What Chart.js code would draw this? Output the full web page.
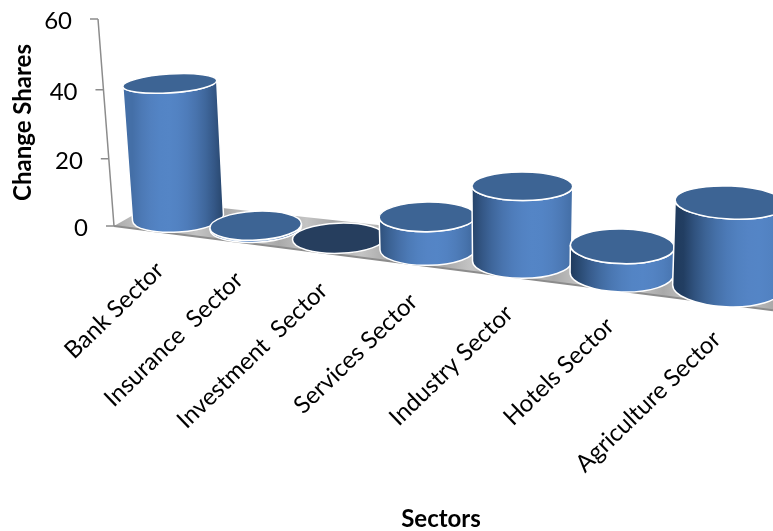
<!DOCTYPE html>
<html>
<head>
<meta charset="utf-8">
<style>
  html, body { margin: 0; padding: 0; background: #fff; }
  canvas { display: block; }
</style>
<script src="https://cdn.jsdelivr.net/npm/chart.js@4"></script>
</head>
<body>
<canvas id="chartCanvas" width="773" height="531"></canvas>
<script>
// values
const sectors = ["Bank Sector", "Insurance  Sector", "Investment  Sector", "Services Sector", "Industry Sector", "Hotels Sector", "Agriculture Sector"];
const changeShares = [39, 0.6, 0, 9, 20, 7, 20.5];
const yTicks = [0, 20, 40, 60];

// fake 3D: turns the flat scale pixels into the slanted perspective view
function catIndex(x, px) {
    let a = x.getPixelForValue(0);
    let b = x.getPixelForValue(1);
    return (px - a) / (b - a);
}
function floorX(i) { return 178 + 75 * i + 2.75 * i * i; }
function floorY(sx) { return 218 + 0.1257 * (sx - 178); }
function depth(i) { return 1 + 0.0054 * i * i; }
function flat(y, rx) { return rx * (0.2 + 0.00081 * (y - 84)); }
function axisX(y) { return 98 + (y - 19) * 16 / 207; }
function tickY(chart, py) {
    let a = chart.chartArea;
    let t = (a.bottom - py) / (a.bottom - a.top);
    return py + t * (1 - t) * 8;
}

function sideGradient(ctx, x0, x1, peak) {
    let g = ctx.createLinearGradient(x0, 0, x1, 0);
    let dark = [31, 58, 92];
    let light = [84, 133, 198];
    for (let s = 0; s <= 10; s++) {
        let t = s / 10;
        let b = Math.max(0, 1 - Math.pow((t - peak) / 0.68, 2));
        let c = dark.map((d, k) => Math.round(d + (light[k] - d) * b));
        g.addColorStop(t, "rgb(" + c.join(",") + ")");
    }
    return g;
}

function drawCylinder(ctx, i, value, heightPx, baseW) {
    let bx = floorX(i);
    let by = floorY(bx);
    let rx = baseW / 2 * depth(i);
    let h = heightPx * depth(i);
    let tx = bx + h * (bx - 500) * 0.00019;
    let ty = by - h;
    let trx = rx * (1 + h * 0.00025);
    let ry = flat(by, rx);
    let try_ = flat(ty, trx);
    let rot = (bx - 500) * 0.0002;

    ctx.lineWidth = 1.5;
    ctx.strokeStyle = "#ffffff";

    if (value > 0) {
        ctx.beginPath();
        ctx.ellipse(bx, by, rx, ry, rot, Math.PI, 0, true);
        ctx.ellipse(tx, ty, trx, try_, rot, 0, Math.PI, false);
        ctx.closePath();
        ctx.fillStyle = sideGradient(ctx, bx - rx, bx + rx, 0.37 + 0.065 * i);
        ctx.fill();
        ctx.stroke();
    }

    ctx.beginPath();
    ctx.ellipse(tx, ty, trx, try_, rot, 0, Math.PI * 2);
    ctx.fillStyle = value > 0 ? "#3d6494" : "#263e5e";
    ctx.fill();
    ctx.stroke();
}

const view3d = {
    id: "view3d",
    beforeDraw(chart) {
        let ctx = chart.ctx;
        let x = chart.scales.x;
        let y = chart.scales.y;
        let a = chart.chartArea;

        // floor
        let g = ctx.createLinearGradient(a.left, 0, 773, 0);
        for (let s = 0; s <= 24; s++) g.addColorStop(s / 24, s % 2 ? "#c4c4c4" : "#a9a9a9");
        ctx.beginPath();
        ctx.moveTo(a.left, a.bottom);
        ctx.lineTo(158, 201);
        ctx.lineTo(773, 268);
        ctx.lineTo(773, a.bottom + 0.128 * (773 - a.left));
        ctx.closePath();
        ctx.fillStyle = g;
        ctx.fill();
        ctx.beginPath();
        ctx.moveTo(a.left, a.bottom);
        ctx.lineTo(773, a.bottom + 0.128 * (773 - a.left));
        ctx.strokeStyle = "#8c8c8c";
        ctx.lineWidth = 2;
        ctx.stroke();

        // slanted value axis
        ctx.beginPath();
        ctx.moveTo(axisX(a.top), a.top);
        ctx.lineTo(axisX(a.bottom), a.bottom);
        y.ticks.forEach(t => {
            let py = tickY(chart, y.getPixelForValue(t.value));
            ctx.moveTo(axisX(py) - 8, py);
            ctx.lineTo(axisX(py), py);
        });
        ctx.strokeStyle = "#8c8c8c";
        ctx.lineWidth = 1.5;
        ctx.stroke();

        // move the native tick labels onto the slanted axes
        y.getLabelItems().forEach((item, n) => {
            let py = tickY(chart, y.getPixelForValue(y.ticks[n].value));
            item.options.translation = [axisX(py) - 26, py + 2];
        });
        x.getLabelItems().forEach((item, n) => {
            let sx = floorX(n);
            item.options.translation = [sx - 28 + n * 1.3, floorY(sx) + 38];
        });
    },
    afterDatasetsDraw(chart) {
        let ctx = chart.ctx;
        let x = chart.scales.x;
        let y = chart.scales.y;
        let bars = chart.getDatasetMeta(0).data;
        let order = bars.map((b, n) => n).sort((p, q) => (changeShares[p] > 0) - (changeShares[q] > 0) || p - q);
        order.forEach(n => {
            let b = bars[n];
            drawCylinder(ctx, catIndex(x, b.x), changeShares[n], y.getPixelForValue(0) - b.y, b.width);
        });
    }
};

new Chart(document.getElementById("chartCanvas"), {
    type: "bar",
    plugins: [view3d],
    data: {
        labels: sectors,
        datasets: [{
            label: "Change Shares",
            data: changeShares,
            backgroundColor: "rgba(0,0,0,0)",
            barPercentage: 0.975,
            categoryPercentage: 1
        }]
    },
    options: {
        responsive: false,
        animation: false,
        layout: { autoPadding: false, padding: { top: 19, right: 5, left: 0, bottom: 0 } },
        plugins: { legend: { display: false }, tooltip: { enabled: false } },
        scales: {
            x: {
                grid: { display: false },
                border: { display: false },
                afterFit(scale) { scale.height = 305; },
                ticks: {
                    minRotation: 44,
                    maxRotation: 44,
                    autoSkip: false,
                    color: "#000",
                    font: { family: "Lato", size: 24 }
                },
                title: {
                    display: true,
                    text: "Sectors",
                    color: "#000",
                    padding: { top: 4, bottom: -3 },
                    font: { family: "Lato", size: 24, weight: "bold" }
                }
            },
            y: {
                min: 0,
                max: 60,
                grid: { display: false },
                border: { display: false },
                afterFit(scale) { scale.width = 114; },
                afterBuildTicks(scale) { scale.ticks = yTicks.map(v => ({ value: v })); },
                ticks: {
                    color: "#000",
                    font: { family: "Lato", size: 24 }
                },
                title: {
                    display: true,
                    text: "Change Shares",
                    color: "#000",
                    padding: { top: 9, bottom: 0 },
                    font: { family: "Lato", size: 24, weight: "bold" }
                }
            }
        }
    }
});
</script>
</body>
</html>
